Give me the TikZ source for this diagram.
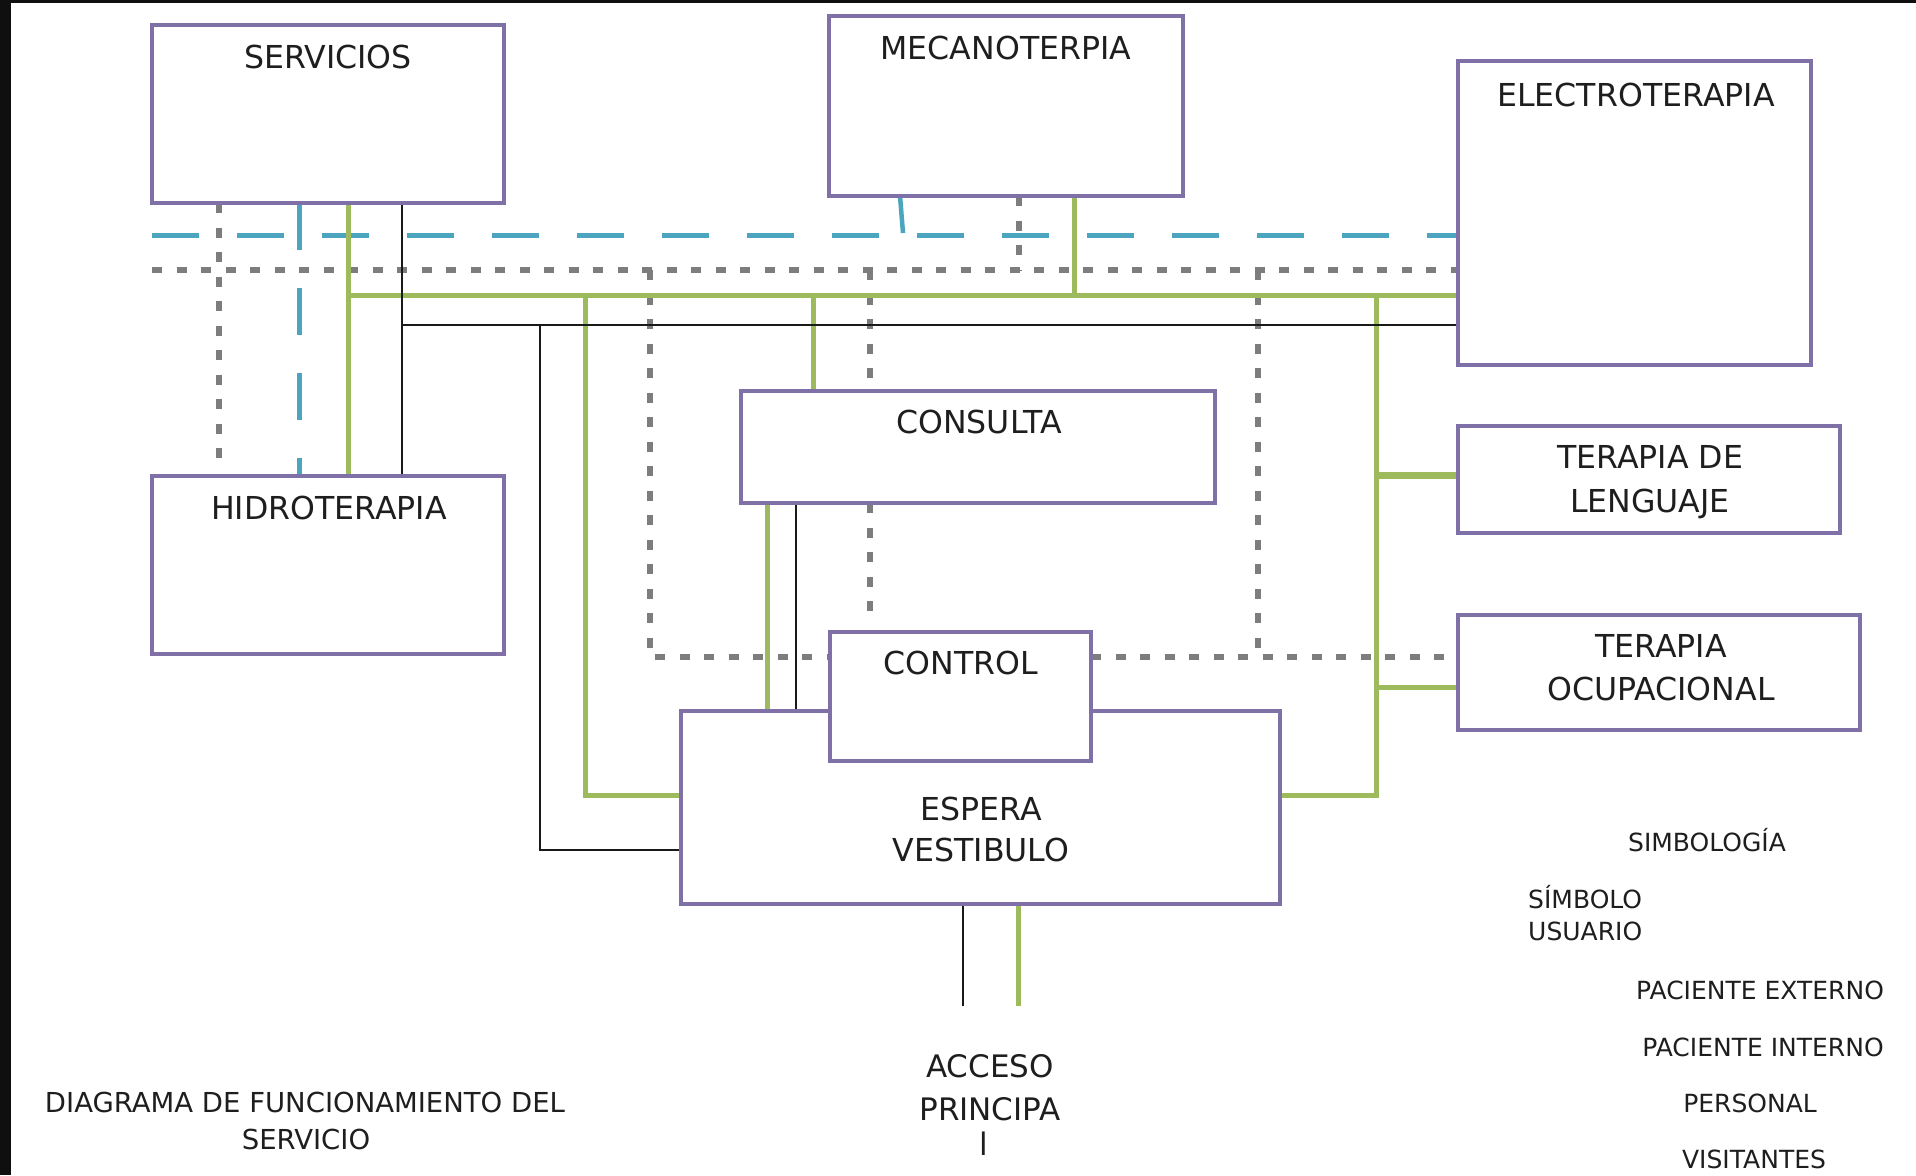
\documentclass[tikz,border=0pt]{standalone}
\usepackage{fontspec}
\setmainfont{DejaVu Sans}
\usetikzlibrary{backgrounds}
\definecolor{roomc}{RGB}{128,112,168}
\definecolor{grnc}{RGB}{157,186,92}
\definecolor{bluec}{RGB}{75,165,190}
\definecolor{grayc}{RGB}{125,125,125}
\definecolor{txtc}{RGB}{30,30,30}
\begin{document}
\begin{tikzpicture}[x=1pt,y=-1pt,
  room/.style={draw=roomc, line width=3.8pt, fill=white, anchor=north west, inner sep=0pt, outer sep=0pt},
  boxtxt/.style={anchor=base, inner sep=0pt, text=txtc, font=\fontsize{31.6}{38}\selectfont},
  acctxt/.style={anchor=base, inner sep=0pt, text=txtc, font=\fontsize{31}{38}\selectfont},
  titletxt/.style={anchor=base, inner sep=0pt, text=txtc, font=\fontsize{27.5}{33}\selectfont},
  legtxt/.style={anchor=base, inner sep=0pt, text=txtc, font=\fontsize{25}{30}\selectfont},
  greenline/.style={draw=grnc, line width=5pt},
  blueline/.style={draw=bluec, line width=5pt, dash pattern=on 47pt off 38pt},
  grayline/.style={draw=grayc, line width=6pt, dash pattern=on 10pt off 14.5pt},
  blackline/.style={draw=black!90, line width=1.5pt},
]
\useasboundingbox (0,0) rectangle (1916,1175);

% rooms
\node[room, minimum width=352pt, minimum height=178pt] (serv) at (152,25) {};
\node[room, minimum width=354pt, minimum height=180pt] (meca) at (829,16) {};
\node[room, minimum width=353pt, minimum height=304pt] (elec) at (1458,61) {};
\node[room, minimum width=474pt, minimum height=112pt] (cons) at (741,391) {};
\node[room, minimum width=352pt, minimum height=178pt] (hidro) at (152,476) {};
\node[room, minimum width=382pt, minimum height=107pt] (leng) at (1458,426) {};
\node[room, minimum width=402pt, minimum height=115pt] (ocup) at (1458,615) {};
\node[room, minimum width=599pt, minimum height=193pt] (esp) at (681,711) {};
\node[room, minimum width=261pt, minimum height=129pt] (ctrl) at (830,632) {};

% room labels
\node[boxtxt] (servT) at (328,68) {SERVICIOS};
\node[boxtxt] (mecaT) at (1006,59) {MECANOTERPIA};
\node[boxtxt] (elecT) at (1636,106) {ELECTROTERAPIA};
\node[boxtxt] (consT) at (979,433) {CONSULTA};
\node[boxtxt] (hidroT) at (329,519) {HIDROTERAPIA};
\node[boxtxt] (lengT1) at (1650,468) {TERAPIA DE};
\node[boxtxt] (lengT2) at (1650,512) {LENGUAJE};
\node[boxtxt] (ocupT1) at (1661,657) {TERAPIA};
\node[boxtxt] (ocupT2) at (1661,700) {OCUPACIONAL};
\node[boxtxt] (ctrlT) at (961,674) {CONTROL};
\node[boxtxt] (espT1) at (981,820) {ESPERA};
\node[boxtxt] (espT2) at (981,861) {VESTIBULO};

% access label
\node[acctxt] (acc1) at (990,1077) {ACCESO};
\node[acctxt] (acc2) at (990,1120) {PRINCIPA};
\node[acctxt] (acc3) at (984,1155) {l};

% title
\node[titletxt] (tit1) at (305,1112) {DIAGRAMA DE FUNCIONAMIENTO DEL};
\node[titletxt] (tit2) at (306,1149) {SERVICIO};

% legend
\node[legtxt] (leg0) at (1707,851) {SIMBOLOGÍA};
\node[legtxt, anchor=base west] (leg1) at (1528,908) {SÍMBOLO};
\node[legtxt, anchor=base west] (leg2) at (1528,940) {USUARIO};
\node[legtxt] (leg3) at (1760,999) {PACIENTE EXTERNO};
\node[legtxt] (leg4) at (1763,1056) {PACIENTE INTERNO};
\node[legtxt] (leg5) at (1750,1112) {PERSONAL};
\node[legtxt] (leg6) at (1754,1168) {VISITANTES};

% grid coordinates
\coordinate (yB) at (0,235);
\coordinate (yG) at (0,270);
\coordinate (yGr) at (0,295);
\coordinate (yK) at (0,325);
\coordinate (yL) at (0,475);
\coordinate (yGlow) at (0,657);
\coordinate (yO) at (0,687);
\coordinate (yEg) at (0,795);
\coordinate (yEk) at (0,850);
\coordinate (yEnd) at (0,1006);
\coordinate (xgA) at (219,0);
\coordinate (xbA) at (299,0);
\coordinate (xgrA) at (348,0);
\coordinate (xkA) at (402,0);
\coordinate (xkB) at (540,0);
\coordinate (xgrB) at (585,0);
\coordinate (xgB) at (650,0);
\coordinate (xgrC) at (767,0);
\coordinate (xkC) at (796,0);
\coordinate (xgrD) at (813,0);
\coordinate (xgC) at (870,0);
\coordinate (xbB) at (900,0);
\coordinate (xkD) at (963,0);
\coordinate (xgrE) at (1018,0);
\coordinate (xgD) at (1019,0);
\coordinate (xgrF) at (1074,0);
\coordinate (xgE) at (1258,0);
\coordinate (xgrG) at (1376,0);
\coordinate (bjoin) at (903,233);

\begin{scope}[on background layer]
  \fill[black!94] (0,0) rectangle (11,1175);
  \fill[black!94] (0,0) rectangle (1916,3);

  % blue (dashed)
  \draw[blueline] (serv.west |- yB) -- (elec.west |- yB);
  \draw[blueline] (serv.south -| xbA) -- (hidro.north -| xbA);
  \draw[draw=bluec, line width=4.5pt] (meca.south -| xbB) -- (bjoin);

  % gray (dotted)
  \draw[grayline] (serv.west |- yG) -- (elec.west |- yG);
  \draw[grayline, shorten >=12pt] (serv.south -| xgA) -- (hidro.north -| xgA);
  \draw[grayline] (xgB |- yG) -- (xgB |- yGlow) -- (ctrl.west |- yGlow);
  \draw[grayline] (ctrl.east |- yGlow) -- (ocup.west |- yGlow);
  \draw[grayline] (xgC |- yG) -- (cons.north -| xgC);
  \draw[grayline, shorten >=14pt] (cons.south -| xgC) -- (ctrl.north -| xgC);
  \draw[grayline] (meca.south -| xgD) -- (xgD |- yG);
  \draw[grayline] (xgE |- yG) -- (xgE |- yGlow);

  % green
  \draw[greenline] (serv.south -| xgrA) -- (hidro.north -| xgrA);
  \draw[greenline] (xgrA |- yGr) -- (elec.west |- yGr);
  \draw[greenline] (meca.south -| xgrF) -- (xgrF |- yGr);
  \draw[greenline] (xgrD |- yGr) -- (cons.north -| xgrD);
  \draw[greenline] (xgrB |- yGr) -- (xgrB |- yEg) -- (esp.west |- yEg);
  \draw[greenline] (xgrG |- yGr) -- (xgrG |- yEg) -- (esp.east |- yEg);
  \draw[greenline, line width=7pt] (xgrG |- yL) -- (leng.west |- yL);
  \draw[greenline] (xgrG |- yO) -- (ocup.west |- yO);
  \draw[greenline] (cons.south -| xgrC) -- (esp.north -| xgrC);
  \draw[greenline] (esp.south -| xgrE) -- (xgrE |- yEnd);

  % black
  \draw[blackline] (serv.south -| xkA) -- (hidro.north -| xkA);
  \draw[blackline] (xkA |- yK) -- (elec.west |- yK);
  \draw[blackline] (xkB |- yK) -- (xkB |- yEk) -- (esp.west |- yEk);
  \draw[blackline, line width=2.5pt] (cons.south -| xkC) -- (esp.north -| xkC);
  \draw[blackline] (esp.south -| xkD) -- (xkD |- yEnd);
\end{scope}
\end{tikzpicture}
\end{document}
